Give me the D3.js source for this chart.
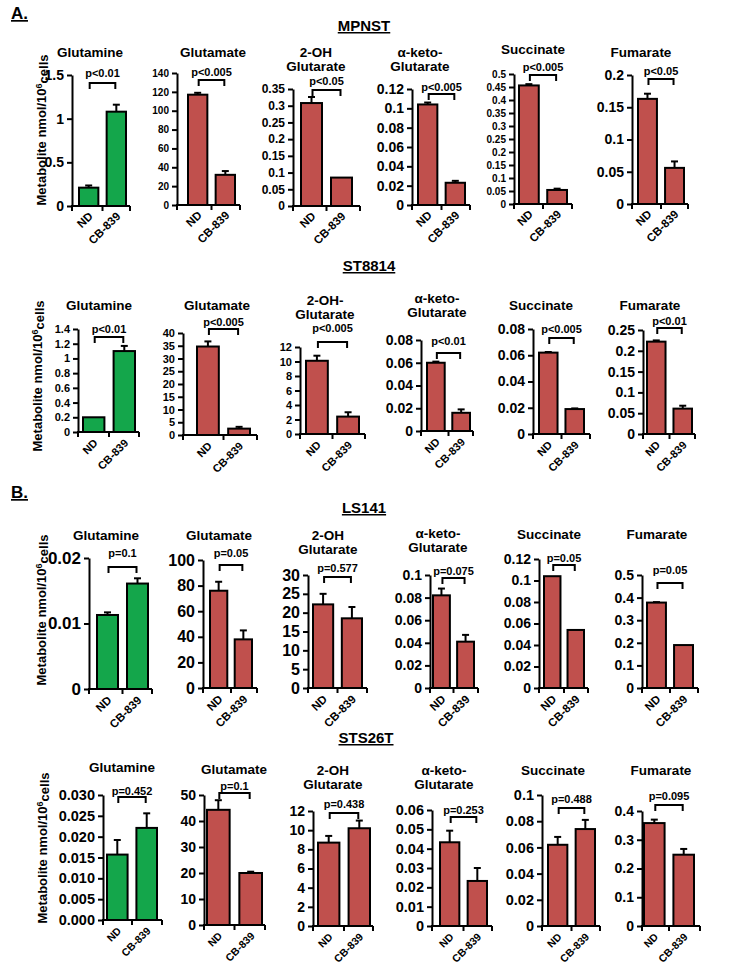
<!DOCTYPE html>
<html><head><meta charset="utf-8">
<script src="https://cdn.jsdelivr.net/npm/d3@7"></script>
<style>
body{margin:0;background:#fff}
svg{display:block}
text{font-family:"Liberation Sans",Arial,Helvetica,sans-serif;font-weight:bold;fill:#000}
</style>
</head><body>
<svg id="chart" width="732" height="966"></svg>
<script>
// ---------------- DATA ----------------
const conditions = ["ND", "CB-839"];
const cellLines = ["MPNST", "ST8814", "LS141", "STS26T"];
const sectionLabels = ["A.", "B."];
const yAxisTitle = ["Metabolite nmol/10", "6", "cells"];

const titlesMPNST  = [["Glutamine"], ["Glutamate"], ["2-OH", "Glutarate"], ["α-keto-", "Glutarate"], ["Succinate"], ["Fumarate"]];
const titlesST8814 = [["Glutamine"], ["Glutamate"], ["2-OH-", "Glutarate"], ["α-keto-", "Glutarate"], ["Succinate"], ["Fumarate"]];
const titlesLS141  = [["Glutamine"], ["Glutamate"], ["2-OH", "Glutarate"], ["α-keto-", "Glutarate"], ["Succinate"], ["Fumarate"]];
const titlesSTS26T = [["Glutamine"], ["Glutamate"], ["2-OH", "Glutarate"], ["α-keto-", "Glutarate"], ["Succinate"], ["Fumarate"]];

// MPNST
const mpnstND    = [0.21, 117, 0.308, 0.104, 0.456, 0.163];
const mpnstNDErr = [0.025, 2, 0.018, 0.002, 0.005, 0.008];
const mpnstCB    = [1.08, 32, 0.085, 0.023, 0.054, 0.056];
const mpnstCBErr = [0.08, 4, 0, 0.002, 0.005, 0.01];
const mpnstP     = ["p<0.01", "p<0.005", "p<0.05", "p<0.005", "p<0.005", "p<0.05"];
const mpnstYMax  = [1.5, 140, 0.35, 0.12, 0.5, 0.2];
const mpnstYStep = [0.5, 20, 0.05, 0.02, 0.05, 0.05];
const mpnstFmt   = ["~f", "~f", "~f", "~f", "~f", "~f"];

// ST8814
const st8814ND    = [0.2, 34.7, 10.1, 0.06, 0.062, 0.222];
const st8814NDErr = [0, 2, 0.7, 0.001, 0.0005, 0.003];
const st8814CB    = [1.1, 2.5, 2.4, 0.016, 0.019, 0.061];
const st8814CBErr = [0.07, 0.7, 0.6, 0.003, 0.0005, 0.007];
const st8814P     = ["p<0.01", "p<0.005", "p<0.005", "p<0.01", "p<0.005", "p<0.01"];
const st8814YMax  = [1.4, 40, 12, 0.08, 0.08, 0.25];
const st8814YStep = [0.2, 5, 2, 0.02, 0.02, 0.05];
const st8814Fmt   = ["~f", "~f", "~f", "~f", "~f", "~f"];

// LS141
const ls141ND    = [0.0113, 76, 22.2, 0.082, 0.104, 0.378];
const ls141NDErr = [0.0004, 7, 2.8, 0.006, 0, 0.002];
const ls141CB    = [0.0161, 38, 18.5, 0.041, 0.054, 0.19];
const ls141CBErr = [0.0008, 7, 3, 0.006, 0, 0];
const ls141P     = ["p=0.1", "p=0.05", "p=0.577", "p=0.075", "p=0.05", "p=0.05"];
const ls141YMax  = [0.02, 100, 30, 0.1, 0.12, 0.5];
const ls141YStep = [0.01, 20, 5, 0.02, 0.02, 0.1];
const ls141Fmt   = ["~f", "~f", "~f", "~f", "~f", "~f"];

// STS26T
const sts26tND    = [0.0157, 44.3, 8.7, 0.0433, 0.062, 0.358];
const sts26tNDErr = [0.0035, 3.7, 0.7, 0.006, 0.006, 0.012];
const sts26tCB    = [0.0221, 20, 10.2, 0.0233, 0.074, 0.248];
const sts26tCBErr = [0.0035, 0.5, 0.8, 0.0067, 0.007, 0.02];
const sts26tP     = ["p=0.452", "p=0.1", "p=0.438", "p=0.253", "p=0.488", "p=0.095"];
const sts26tYMax  = [0.03, 50, 12, 0.06, 0.1, 0.4];
const sts26tYStep = [0.005, 10, 2, 0.01, 0.02, 0.1];
const sts26tFmt   = [".3f", "~f", "~f", "~f", "~f", "~f"];

// ---------------- STYLE ----------------
const greenFill = "#14a64b";
const redFill = "#c0504d";
const ink = "#000";

// ---------------- LAYOUT (pixel geometry per row) ----------------
const layout = [
  { // MPNST
    header: {x: 364, y: 31, size: 15}, section: {text: 0, x: 11, y: 19},
    yTitle: {x: 46, y: 130, size: 13},
    axisX:  [72, 177, 293, 412, 514, 632],
    axisEnd:[130, 240, 360, 470, 572, 688],
    barL:   [79, 188, 301, 418, 519, 638],
    barR:   [126, 235, 352, 465, 567, 684],
    y0:     [206, 205, 206, 205, 204, 204],
    yTop:   [75, 73, 89, 89, 74, 75],
    titleX: [90, 213, 316, 420, 533, 641],
    titleY: [57, 57, 57, 57, 54, 57],
    bracketY:[83, 80, 90, 94, 75, 79],
    pY:     [77, 76, 85, 91, 71, 75],
    tickFont:[14, 10, 12, 14, 10, 14],
    xFont: 11.5, xOff: 8
  },
  { // ST8814
    header: {x: 369, y: 271, size: 15}, section: null,
    yTitle: {x: 42, y: 376, size: 13},
    axisX:  [78, 183, 300, 421, 533, 643],
    axisEnd:[139, 257, 365, 473, 590, 695],
    barL:   [83, 197, 306, 427, 539, 647],
    barR:   [135, 250, 359, 470, 584, 692],
    y0:     [432, 435, 434, 431, 434, 434],
    yTop:   [329, 333, 347, 340, 329, 330],
    titleX: [99, 217, 325, 437, 541, 650],
    titleY: [310, 310, 305, 303, 310, 310],
    bracketY:[337, 329, 342, 353, 338, 328],
    pY:     [333, 326, 332, 345, 333, 325],
    tickFont:[11, 11, 11, 14, 14, 14],
    xFont: 11, xOff: 9
  },
  { // LS141
    header: {x: 364, y: 513, size: 15}, section: {text: 1, x: 11, y: 498},
    yTitle: {x: 46, y: 610, size: 13},
    axisX:  [89, 203, 308, 430, 539, 642],
    axisEnd:[152, 257, 367, 478, 588, 698],
    barL:   [97, 210, 313, 433, 544, 647],
    barR:   [148, 252, 362, 474, 584, 693],
    y0:     [689, 688, 688, 688, 688, 688],
    yTop:   [558, 560, 575, 575, 559, 575],
    titleX: [106, 219, 328, 438, 549, 657],
    titleY: [540, 540, 540, 538, 539, 539],
    bracketY:[567, 565, 577, 578, 565, 583],
    pY:     [557, 557, 572, 575, 562, 574],
    tickFont:[17, 16, 16, 14, 14, 14],
    xFont: 11.5, xOff: 9
  },
  { // STS26T
    header: {x: 366, y: 743, size: 15}, section: null,
    yTitle: {x: 47, y: 848, size: 13},
    axisX:  [103, 204, 313, 432, 542, 642],
    axisEnd:[162, 265, 373, 492, 600, 700],
    barL:   [107, 207, 318, 440, 548, 644],
    barR:   [157, 262, 370, 487, 595, 694],
    y0:     [920, 925, 926, 926, 926, 926],
    yTop:   [795, 795, 811, 810, 795, 811],
    titleX: [122, 234, 333, 444, 553, 661],
    titleY: [772, 774, 775, 775, 775, 775],
    bracketY:[797, 793, 813, 817, 808, 805],
    pY:     [795, 790, 808, 814, 803, 800],
    tickFont:[14.5, 14, 14, 14.5, 14.5, 14],
    xFont: 10.5, xOff: 9
  }
];

// ---------------- BUILD ----------------
const rows = [
  {titles: titlesMPNST,  nd: mpnstND,  ndErr: mpnstNDErr,  cb: mpnstCB,  cbErr: mpnstCBErr,  p: mpnstP,  yMax: mpnstYMax,  yStep: mpnstYStep,  fmt: mpnstFmt},
  {titles: titlesST8814, nd: st8814ND, ndErr: st8814NDErr, cb: st8814CB, cbErr: st8814CBErr, p: st8814P, yMax: st8814YMax, yStep: st8814YStep, fmt: st8814Fmt},
  {titles: titlesLS141,  nd: ls141ND,  ndErr: ls141NDErr,  cb: ls141CB,  cbErr: ls141CBErr,  p: ls141P,  yMax: ls141YMax,  yStep: ls141YStep,  fmt: ls141Fmt},
  {titles: titlesSTS26T, nd: sts26tND, ndErr: sts26tNDErr, cb: sts26tCB, cbErr: sts26tCBErr, p: sts26tP, yMax: sts26tYMax, yStep: sts26tYStep, fmt: sts26tFmt}
];

const svg = d3.select("#chart");

rows.forEach((row, r) => {
  const L = layout[r];
  const g = svg.append("g");

  // section label
  if (L.section) {
    g.append("text").attr("x", L.section.x).attr("y", L.section.y)
      .style("font-size", "17px").style("text-decoration", "underline")
      .text(sectionLabels[L.section.text]);
  }
  // cell line header
  g.append("text").attr("x", L.header.x).attr("y", L.header.y)
    .attr("text-anchor", "middle").style("font-size", L.header.size + "px")
    .style("text-decoration", "underline").text(cellLines[r]);

  // y axis title
  const yt = g.append("text")
    .attr("transform", `translate(${L.yTitle.x},${L.yTitle.y}) rotate(-90)`)
    .attr("text-anchor", "middle").style("font-size", L.yTitle.size + "px");
  yt.append("tspan").text(yAxisTitle[0]);
  yt.append("tspan").attr("dy", "-0.4em").style("font-size", "9px").text(yAxisTitle[1]);
  yt.append("tspan").attr("dy", "0.4em").text(yAxisTitle[2]);

  row.nd.forEach((_, i) => {
    const pg = g.append("g");
    const values = [row.nd[i], row.cb[i]];
    const errs = [row.ndErr[i], row.cbErr[i]];
    const color = i === 0 ? greenFill : redFill;

    const y = d3.scaleLinear().domain([0, row.yMax[i]]).range([L.y0[i], L.yTop[i]]);
    const x = d3.scaleBand().domain(conditions).range([L.barL[i], L.barR[i]])
      .paddingInner(0.3).paddingOuter(0);

    // title
    const tl = row.titles[i];
    tl.forEach((line, k) => {
      pg.append("text").attr("x", L.titleX[i]).attr("y", L.titleY[i] + k * 14)
        .attr("text-anchor", "middle").style("font-size", "13.5px").text(line);
    });

    // bars
    pg.selectAll("rect.bar").data(conditions).join("rect")
      .attr("class", "bar")
      .attr("x", d => x(d)).attr("width", x.bandwidth())
      .attr("y", (d, j) => y(values[j]))
      .attr("height", (d, j) => y(0) - y(values[j]))
      .attr("fill", color).attr("stroke", ink).attr("stroke-width", 2);

    // error bars (upper only)
    conditions.forEach((c, j) => {
      if (errs[j] <= 0) return;
      const cx = x(c) + x.bandwidth() / 2;
      pg.append("line").attr("x1", cx).attr("x2", cx)
        .attr("y1", y(values[j])).attr("y2", y(values[j] + errs[j]))
        .attr("stroke", ink).attr("stroke-width", 2);
      pg.append("line").attr("x1", cx - 3.5).attr("x2", cx + 3.5)
        .attr("y1", y(values[j] + errs[j])).attr("y2", y(values[j] + errs[j]))
        .attr("stroke", ink).attr("stroke-width", 2);
    });

    // y axis
    const ticks = d3.range(0, row.yMax[i] + row.yStep[i] / 2, row.yStep[i]);
    const fmt = d3.format(row.fmt[i] === "~f" ? ".4~f" : row.fmt[i]);
    const ax = pg.append("g").attr("transform", `translate(${L.axisX[i]},0)`)
      .call(d3.axisLeft(y).tickValues(ticks).tickFormat(fmt).tickSize(5).tickSizeOuter(0).tickPadding(3));
    ax.select(".domain").attr("stroke", ink).attr("stroke-width", 2);
    ax.selectAll(".tick line").attr("stroke", ink).attr("stroke-width", 2);
    ax.selectAll(".tick text").style("font-size", L.tickFont[i] + "px")
      .style("font-family", "'Liberation Sans',Arial,sans-serif").style("font-weight", "bold").attr("fill", ink);

    // x axis line + category boundary ticks
    pg.append("line").attr("x1", L.axisX[i] - 1).attr("x2", L.axisEnd[i])
      .attr("y1", L.y0[i]).attr("y2", L.y0[i]).attr("stroke", ink).attr("stroke-width", 2);
    const mid = (x("ND") + x.bandwidth() + x("CB-839")) / 2;
    [L.axisX[i], mid, L.axisEnd[i]].forEach(tx => {
      pg.append("line").attr("x1", tx).attr("x2", tx)
        .attr("y1", L.y0[i]).attr("y2", L.y0[i] + 5)
        .attr("stroke", ink).attr("stroke-width", 2);
    });

    // x labels rotated
    conditions.forEach(c => {
      const cx = x(c) + x.bandwidth() / 2 + 2;
      pg.append("text")
        .attr("transform", `translate(${cx},${L.y0[i] + L.xOff}) rotate(-45)`)
        .attr("text-anchor", "end").attr("dy", "0.35em")
        .style("font-size", L.xFont + "px").text(c);
    });

    // significance bracket
    const bx1 = x("ND") + x.bandwidth() / 2 + 1;
    const bx2 = x("CB-839") + x.bandwidth() / 2 - 1;
    const by = L.bracketY[i];
    pg.append("path")
      .attr("d", `M${bx1},${by + 6}V${by}H${bx2}V${by + 6}`)
      .attr("fill", "none").attr("stroke", ink).attr("stroke-width", 2);
    pg.append("text").attr("x", (bx1 + bx2) / 2).attr("y", L.pY[i])
      .attr("text-anchor", "middle").style("font-size", "11px").text(row.p[i]);
  });
});
</script>
</body></html>
